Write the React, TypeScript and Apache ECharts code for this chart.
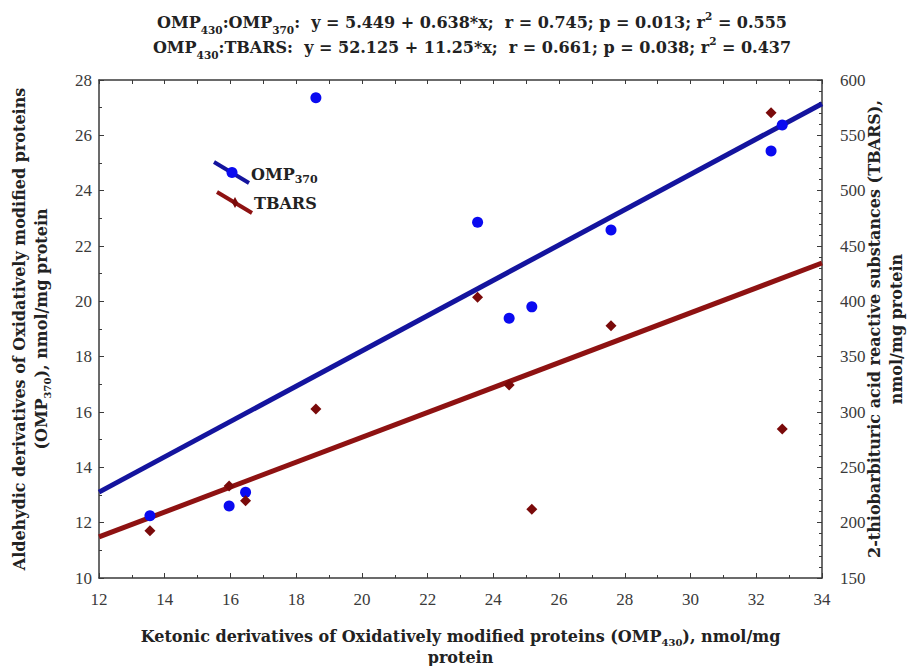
import React, { useEffect, useRef } from "react";
import * as echarts from "echarts";

// Ketonic derivatives OMP430 (x), nmol/mg protein
const ketonic = [13.55, 15.96, 16.46, 18.6, 23.52, 24.48, 25.17, 27.58, 32.45, 32.79];
// Aldehydic derivatives OMP370 (left axis)
const omp370 = [12.25, 12.6, 13.1, 27.36, 22.86, 19.39, 19.8, 22.58, 25.43, 26.37];
// TBARS (right axis)
const tbars = [192.8, 233.1, 219.9, 302.7, 403.7, 324.4, 212.1, 378, 570.5, 284.6];

// Regression coefficients [intercept, slope] as printed in the title
const fitOmp = [5.449, 0.638];
const fitTbars = [52.125, 11.25];
const xRange = [12, 34];

const xTicks = { min: 12, max: 34, interval: 2 };
const yLeftTicks = { min: 10, max: 28, interval: 2 };
const yRightTicks = { min: 150, max: 600, interval: 50 };

const SERIF = "'Liberation Serif', serif";
const WIDE_SERIF = "'DejaVu Serif', 'Liberation Serif', serif";
const AXIS_COL = "#3a3a3a";
const TEXT_COL = "#222";
const BLUE_LINE = "#14149e";
const BLUE_DOT = "#0a0af0";
const RED_LINE = "#8e1212";
const RED_DOT = "#7a0a0a";

const makeRich = (fs: number) => ({
  s: { fontSize: fs, fontWeight: "bold", fontFamily: WIDE_SERIF, lineHeight: 12, verticalAlign: "bottom", color: TEXT_COL },
  p: { fontSize: fs, fontWeight: "bold", fontFamily: WIDE_SERIF, lineHeight: 12, verticalAlign: "top", color: TEXT_COL },
});

export default function App() {
  const ref = useRef<HTMLDivElement>(null);

  useEffect(() => {
    if (!ref.current) return;
    const chart = echarts.init(ref.current, null, { renderer: "svg" });

    const fitLine = (c: number[]) => xRange.map((x) => [x, c[0] + c[1] * x]);

    const nameStyle = (fs: number, withRich: boolean) => ({
      fontFamily: WIDE_SERIF,
      fontWeight: "bold",
      fontSize: fs,
      lineHeight: 22,
      color: TEXT_COL,
      ...(withRich ? { rich: makeRich(10) } : {}),
    });

    const option: any = {
      animation: false,
      backgroundColor: "#ffffff",
      title: {
        left: 467,
        top: 5,
        textAlign: "center",
        text:
          "OMP{s|430}:OMP{s|370}:  y = 5.449 + 0.638*x;  r = 0.745; p = 0.013; r{p|2} = 0.555\n" +
          "OMP{s|430}:TBARS:  y = 52.125 + 11.25*x;  r = 0.661; p = 0.038; r{p|2} = 0.437",
        textStyle: {
          fontFamily: WIDE_SERIF,
          fontWeight: "bold",
          fontSize: 16,
          lineHeight: 25,
          color: TEXT_COL,
          rich: makeRich(10.5),
        },
      },
      grid: { left: 99, right: 100, top: 80, bottom: 88, containLabel: false, outerBoundsMode: "none" },
      xAxis: [
        {
          type: "value",
          position: "bottom",
          min: xTicks.min,
          max: xTicks.max,
          interval: xTicks.interval,
          splitLine: { show: false },
          axisLine: { show: true, lineStyle: { color: AXIS_COL, width: 1.5 } },
          axisTick: { show: true, inside: true, length: 5, lineStyle: { color: AXIS_COL } },
          minorTick: { show: true, splitNumber: 2, length: 3, lineStyle: { color: AXIS_COL } },
          axisLabel: { margin: 13, fontFamily: SERIF, fontSize: 17, color: AXIS_COL },
          name: "Ketonic derivatives of Oxidatively modified proteins (OMP{s|430}), nmol/mg\nprotein",
          nameLocation: "middle",
          nameGap: 48,
          nameTextStyle: { ...nameStyle(16, true), lineHeight: 21 },
        },
        {
          type: "value",
          position: "top",
          min: xTicks.min,
          max: xTicks.max,
          interval: xTicks.interval,
          splitLine: { show: false },
          axisLine: { show: true, lineStyle: { color: AXIS_COL, width: 1.5 } },
          axisTick: { show: true, inside: true, length: 4, lineStyle: { color: AXIS_COL } },
          minorTick: { show: true, splitNumber: 2, length: 4, lineStyle: { color: AXIS_COL } },
          axisLabel: { show: false },
        },
      ],
      yAxis: [
        {
          type: "value",
          position: "left",
          min: yLeftTicks.min,
          max: yLeftTicks.max,
          interval: yLeftTicks.interval,
          splitLine: { show: false },
          axisLine: { show: true, lineStyle: { color: AXIS_COL, width: 1.5 } },
          axisTick: { show: true, inside: true, length: 5, lineStyle: { color: AXIS_COL } },
          minorTick: { show: true, splitNumber: 2, length: 3, lineStyle: { color: AXIS_COL } },
          axisLabel: { margin: 7, fontFamily: SERIF, fontSize: 17, color: AXIS_COL },
          name: "Aldehydic derivatives of Oxidatively modified proteins\n(OMP{s|370}), nmol/mg protein",
          nameLocation: "middle",
          nameRotate: 90,
          nameGap: 47,
          nameTextStyle: nameStyle(16, true),
        },
        {
          type: "value",
          position: "right",
          min: yRightTicks.min,
          max: yRightTicks.max,
          interval: yRightTicks.interval,
          splitLine: { show: false },
          axisLine: { show: true, lineStyle: { color: AXIS_COL, width: 1.5 } },
          axisTick: { show: true, inside: true, length: 5, lineStyle: { color: AXIS_COL } },
          minorTick: { show: true, splitNumber: 5, length: 3, lineStyle: { color: AXIS_COL } },
          axisLabel: { margin: 18, fontFamily: SERIF, fontSize: 17, color: AXIS_COL },
          name: "2-thiobarbituric acid reactive substances (TBARS),\nnmol/mg protein",
          nameLocation: "middle",
          nameRotate: 90,
          nameGap: 41,
          nameMoveOverlap: false,
          nameTextStyle: nameStyle(16, false),
        },
      ],
      series: [
        {
          name: "OMP370 fit",
          type: "line",
          xAxisIndex: 0,
          yAxisIndex: 0,
          data: fitLine(fitOmp),
          showSymbol: false,
          lineStyle: { color: BLUE_LINE, width: 5 },
          z: 2,
        },
        {
          name: "TBARS fit",
          type: "line",
          xAxisIndex: 0,
          yAxisIndex: 1,
          data: fitLine(fitTbars),
          showSymbol: false,
          lineStyle: { color: RED_LINE, width: 5 },
          z: 2,
        },
        {
          name: "OMP370",
          type: "scatter",
          xAxisIndex: 0,
          yAxisIndex: 0,
          data: ketonic.map((x, i) => [x, omp370[i]]),
          symbol: "circle",
          symbolSize: 11,
          itemStyle: { color: BLUE_DOT, opacity: 1 },
          z: 3,
        },
        {
          name: "TBARS",
          type: "scatter",
          xAxisIndex: 0,
          yAxisIndex: 1,
          data: ketonic.map((x, i) => [x, tbars[i]]),
          symbol: "diamond",
          symbolSize: 11,
          itemStyle: { color: RED_DOT, opacity: 1 },
          z: 3,
        },
      ],
      graphic: [
        {
          type: "line",
          shape: { x1: 214, y1: 162, x2: 249, y2: 183 },
          style: { stroke: BLUE_LINE, lineWidth: 4 },
          z: 10,
        },
        {
          type: "circle",
          shape: { cx: 232, cy: 172.5, r: 5.5 },
          style: { fill: BLUE_DOT },
          z: 11,
        },
        {
          type: "text",
          x: 251,
          y: 174,
          style: {
            text: "OMP{s|370}",
            fontFamily: WIDE_SERIF,
            fontWeight: "bold",
            fontSize: 16,
            lineHeight: 22,
            fill: TEXT_COL,
            verticalAlign: "middle",
            rich: makeRich(11),
          },
          z: 11,
        },
        {
          type: "line",
          shape: { x1: 217, y1: 192, x2: 252, y2: 213 },
          style: { stroke: RED_LINE, lineWidth: 4 },
          z: 10,
        },
        {
          type: "polygon",
          shape: { points: [[235, 197], [238, 202.5], [235, 208], [232, 202.5]] },
          style: { fill: RED_DOT },
          z: 11,
        },
        {
          type: "text",
          x: 254,
          y: 203,
          style: {
            text: "TBARS",
            fontFamily: WIDE_SERIF,
            fontWeight: "bold",
            fontSize: 16,
            fill: TEXT_COL,
            verticalAlign: "middle",
          },
          z: 11,
        },
      ],
    };

    chart.setOption(option);
    return () => chart.dispose();
  }, []);

  return (
    <div
      ref={ref}
      style={{ position: "fixed", left: 0, top: 0, width: 922, height: 666 }}
    />
  );
}
